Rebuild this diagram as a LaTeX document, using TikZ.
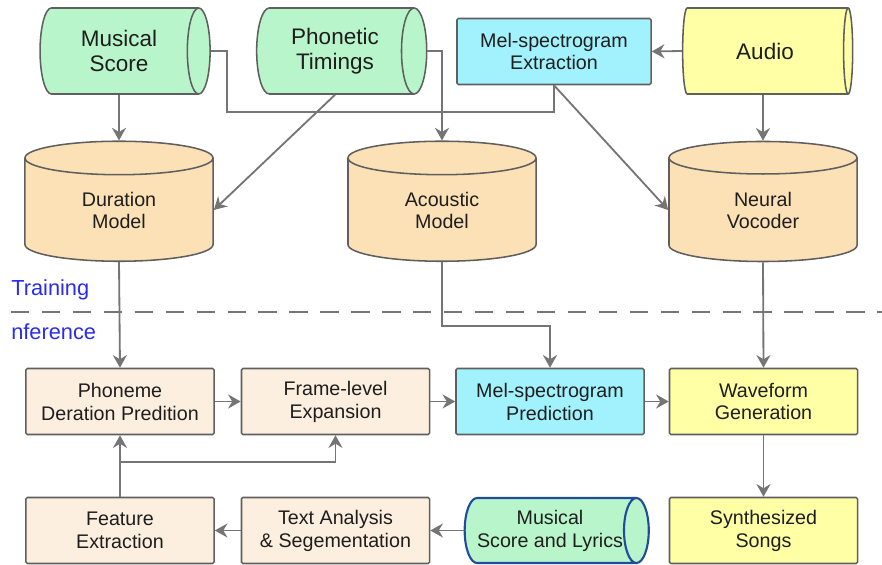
\documentclass[tikz,border=0pt]{standalone}
\usepackage{fontspec}
\setmainfont{Liberation Sans}
\usetikzlibrary{shapes.geometric,arrows.meta}

\definecolor{drumgreen}{HTML}{B9F5CA}
\definecolor{drumorange}{HTML}{FCE1B6}
\definecolor{stagebeige}{HTML}{FCEFDF}
\definecolor{stageblue}{HTML}{A2F2FD}
\definecolor{stageyellow}{HTML}{FFFFA6}
\definecolor{outlinegray}{HTML}{5F5F5F}
\definecolor{linegray}{HTML}{757575}
\definecolor{textdark}{HTML}{1E1E1E}
\definecolor{phaseblue}{HTML}{2B2BF0}
\definecolor{lyricsblue}{HTML}{1F4C9C}

\begin{document}
\begin{tikzpicture}[x=0.025cm, y=-0.025cm,
  hdrum/.style={cylinder, draw=outlinegray, line width=1.1pt, fill=drumgreen,
    aspect=0.55, minimum width=2.15cm, minimum height=4.25cm, inner sep=0pt,
    align=center, text=textdark, font=\fontsize{16}{17.7}\selectfont},
  vdrum/.style={cylinder, shape border rotate=90, draw=outlinegray, line width=1.1pt,
    fill=drumorange, aspect=0.45, minimum width=4.7cm, minimum height=3.0cm,
    inner sep=0pt, align=center, text=textdark, font=\fontsize{14}{15.6}\selectfont},
  stage/.style={rectangle, draw=outlinegray, line width=1.1pt, fill=stagebeige,
    rounded corners=1pt, minimum width=4.7cm, minimum height=1.65cm, inner sep=0pt,
    align=center, text=textdark, font=\fontsize{14}{16.3}\selectfont},
  flow/.style={draw=linegray, line width=1.3pt},
  arr/.style={flow, -{Stealth[length=9pt,width=10pt,inset=3pt]}},
  phase/.style={anchor=west, inner sep=0pt, text=phaseblue, font=\fontsize{15.5}{18}\selectfont}
]
  \useasboundingbox (0,0) rectangle (882,565);

  % training side
  \node[hdrum] (score) at (119,51) {Musical\\Score};
  \node[hdrum] (timing) at (335,51) {Phonetic\\Timings};
  \node[stage, fill=stageblue, minimum width=4.85cm] (melext) at (554,51.5) {Mel-spectrogram\\Extraction};
  \node[hdrum, fill=stageyellow] (audio) at (765,51) {Audio};

  \node[vdrum] (duration) at (119,210) {Duration\\Model};
  \node[vdrum] (acoustic) at (442,210) {Acoustic\\Model};
  \node[vdrum] (vocoder) at (763,210) {Neural\\Vocoder};

  \coordinate (join) at (227,112);
  \draw[flow] (score.east) -| (join) -| (melext.south);
  \draw[arr] (score.south -| duration.north) -- (duration.north);
  \draw[arr] (timing.south) -- (duration.east);
  \draw[arr] (timing.east) -| (acoustic.north);
  \draw[arr] (audio.west) -- (melext.east);
  \draw[arr] (audio.south -| vocoder.north) -- (vocoder.north);
  \draw[arr] (melext.south) -- (vocoder.west);

  % split
  \draw[linegray, line width=1.3pt, dash pattern=on 13pt off 9pt] (11,312) -- (882,312);
  \node[phase] (trainlbl) at (11,290) {Training};
  \node[phase] (inferlbl) at (11,332) {nference};

  % inference side
  \node[stage] (phoneme) at (120,401.5) {Phoneme\\Deration Predition};
  \node[stage] (frame) at (335.5,401.5) {Frame-level\\Expansion};
  \node[stage, fill=stageblue] (melpred) at (550,401.5) {Mel-spectrogram\\Prediction};
  \node[stage, fill=stageyellow] (wave) at (763.5,401.5) {Waveform\\Generation};

  \node[stage] (feature) at (120,530.5) {Feature\\Extraction};
  \node[stage] (textan) at (335.5,530.5) {Text Analysis\\\& Segementation};
  \node[hdrum, draw=lyricsblue, line width=1.5pt, aspect=0.6, minimum width=1.625cm,
    minimum height=4.35cm, font=\fontsize{14}{16.3}\selectfont] (lyrics) at (550,530.5)
    {Musical\\Score and Lyrics};
  \node[stage, fill=stageyellow] (songs) at (763.5,530.5) {Synthesized\\Songs};

  \draw[arr] (duration.south) -- (phoneme.north);
  \draw[arr] (acoustic.south) -- ++(0,64) -| (melpred.north);
  \draw[arr] (vocoder.south) -- (wave.north);
  \draw[arr] (phoneme) -- (frame);
  \draw[arr] (frame) -- (melpred);
  \draw[arr] (melpred) -- (wave);
  \draw[arr] (wave) -- (songs);
  \draw[arr] (lyrics) -- (textan);
  \draw[arr] (textan) -- (feature);
  \draw[arr] (feature) -- (phoneme);
  \draw[arr] (feature.north) -- ++(0,-35) -| (frame.south);
\end{tikzpicture}
\end{document}
